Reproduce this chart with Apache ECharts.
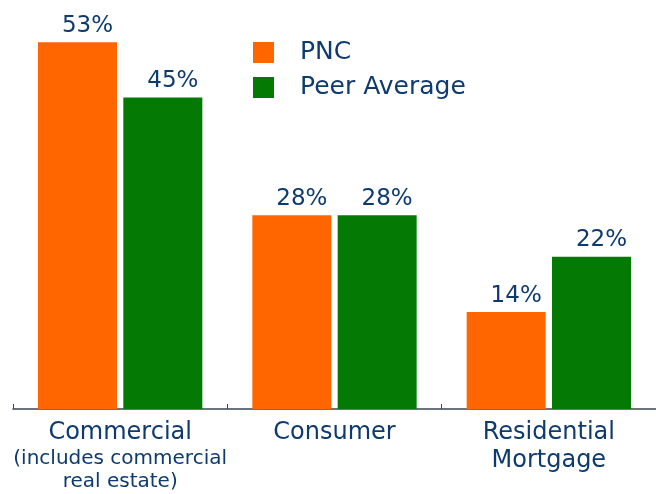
<!DOCTYPE html>
<html>
<head>
<meta charset="utf-8">
<script src="https://cdn.jsdelivr.net/npm/echarts@6/dist/echarts.min.js"></script>
<style>html,body{margin:0;padding:0;background:#fff}#c{width:656px;height:494px}</style>
</head>
<body>
<div id="c"></div>
<script>
const categories = ['{a|Commercial}\n{b|(includes commercial}\n{b|real estate)}', '{a|Consumer}', '{a|Residential}\n{a|Mortgage}'];
const seriesNames = ['PNC', 'Peer Average'];
const pncValues = [53, 28, 14];
const peerValues = [45, 28, 22];

const textColor = '#0E3A6E';
const chart = echarts.init(document.getElementById('c'));
const labelCfg = {
  show: true, position: 'top', distance: 5, offset: [10, 0],
  formatter: '{c}%', color: textColor, fontSize: 23, fontFamily: 'DejaVu Sans'
};
chart.setOption({
  animation: false,
  backgroundColor: '#ffffff',
  legend: {
    orient: 'vertical', left: 248, top: 30, itemWidth: 21, itemHeight: 21, itemGap: 0,
    icon: 'rect',
    data: seriesNames,
    textStyle: { color: textColor, fontSize: 25, fontFamily: 'DejaVu Sans', lineHeight: 25, padding: [10, 0, 0, 21] }
  },
  grid: { left: 13, top: 0, width: 645, height: 409, containLabel: false },
  xAxis: {
    type: 'category', data: categories,
    axisLine: { lineStyle: { color: '#3a4656', width: 1.5 } },
    axisTick: { show: true, inside: true, length: 5, lineStyle: { color: '#3a4656' } },
    axisLabel: {
      margin: 10, interval: 0,
      rich: {
        a: { fontSize: 24, lineHeight: 28, color: textColor, fontFamily: 'DejaVu Sans' },
        b: { fontSize: 20, lineHeight: 23, color: textColor, fontFamily: 'DejaVu Sans' }
      }
    }
  },
  yAxis: { type: 'value', min: 0, max: 59.1, show: false, splitLine: { show: false } },
  series: [
    { name: seriesNames[0], type: 'bar', data: pncValues, barWidth: 79, barGap: '8%',
      itemStyle: { color: '#FF6600' }, label: labelCfg },
    { name: seriesNames[1], type: 'bar', data: peerValues, barWidth: 79, barGap: '8%',
      itemStyle: { color: '#047A04' }, label: labelCfg }
  ]
});
</script>
</body>
</html>
